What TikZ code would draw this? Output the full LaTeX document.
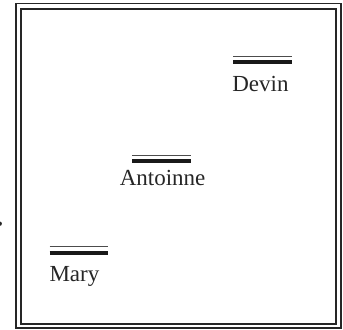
\documentclass[tikz,border=0pt]{standalone}
\usepackage{fontspec}
\setmainfont{Liberation Serif}
\begin{document}
\begin{tikzpicture}[x=1bp,y=-1bp,
  frameline/.style={line width=1.8bp,black!85},
  thinbar/.style={line width=1.2bp,black!70},
  thickbar/.style={line width=3.7bp,black!90},
  personlabel/.style={anchor=base west,inner sep=0pt,outer sep=0pt,text=black!85,
    font=\fontsize{23bp}{27bp}\selectfont}]
  \useasboundingbox (0,0) rectangle (343,330);
  % double frame
  \draw[frameline] (15.8,3.5) rectangle (340.8,328.3);
  \draw[frameline,line width=2bp] (21,8.5) rectangle (336,323.5);
  % small mark at the left edge
  \fill[black!85] (-0.3,223.7) circle (2.2bp);
  % level bars with their names
  \draw[thinbar]  (233,56.7) -- (292,56.7);
  \draw[thickbar] (233,62)   -- (292,62);
  \node[personlabel] (devin) at (232.3,91.5) {Devin};
  \draw[thinbar]  (132.3,155.7) -- (190.7,155.7);
  \draw[thickbar] (132.3,161)   -- (190.7,161);
  \node[personlabel] (antoinne) at (119.8,185) {Antoinne};
  \draw[thinbar]  (49.7,246.7) -- (108.3,246.7);
  \draw[thickbar] (49.7,252.8) -- (108.3,252.8);
  \node[personlabel] (mary) at (49.5,281) {Mary};
\end{tikzpicture}
\end{document}
